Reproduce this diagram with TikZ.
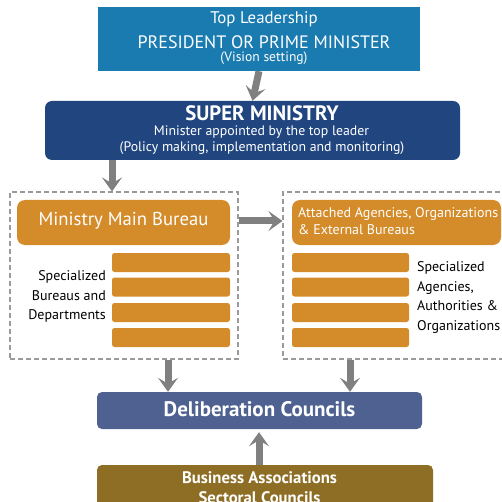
\documentclass[tikz,border=0pt]{standalone}
\usepackage{fontspec}
\setmainfont{PT Sans}
\usetikzlibrary{arrows.meta}
\definecolor{topblue}{HTML}{1A7BB0}
\definecolor{navy}{HTML}{21467F}
\definecolor{orng}{HTML}{D48B2A}
\definecolor{delib}{HTML}{4E6191}
\definecolor{bizbrown}{HTML}{8E6E24}
\definecolor{arrgray}{HTML}{808080}
\definecolor{dashgray}{HTML}{9A9A9A}
\tikzset{
  orangebox/.style={fill=orng, draw=none, rounded corners=5pt, inner sep=0pt},
  barbox/.style={fill=orng, draw=none, rounded corners=2.5pt, inner sep=0pt, minimum height=19pt},
  dashbox/.style={draw=dashgray, line width=1.1pt, dash pattern=on 5pt off 3pt},
  garrow/.style={draw=arrgray, line width=7pt, -{Stealth[length=14pt,width=20pt,inset=6pt]}},
  wtext/.style={text=white, inner sep=0pt, align=center},
  btext/.style={text=black, inner sep=0pt},
}
\begin{document}
\begin{tikzpicture}[x=1pt,y=-1pt]
\useasboundingbox (0,0) rectangle (502,502);
\clip (0,0) rectangle (502,502);
% top box
\node[fill=topblue, inner sep=0pt, minimum width=322pt, minimum height=64pt] (top) at (259,39) {};
\node[wtext, font=\fontsize{16.8}{18}\selectfont] (toplead) at (264,19) {Top Leadership};
\node[wtext, font=\fontsize{18}{20}\selectfont] (pres) at (264,42) {PRESIDENT OR PRIME MINISTER};
\node[wtext, font=\fontsize{13.6}{15}\selectfont] (vision) at (264,58.5) {(Vision setting)};
% super ministry
\node[fill=navy, inner sep=0pt, rounded corners=7pt, minimum width=415pt, minimum height=59pt] (super) at (252.5,130.5) {};
\node[wtext, font=\fontsize{20.8}{22}\selectfont\bfseries] (supert) at (262,113) {SUPER MINISTRY};
\node[wtext, font=\fontsize{13.8}{15}\selectfont] (supera) at (261.5,132) {Minister appointed by the top leader};
\node[wtext, font=\fontsize{13.8}{15}\selectfont] (superb) at (262,148) {(Policy making, implementation and monitoring)};
% left dashed group
\node[dashbox, inner sep=0pt, minimum width=228pt, minimum height=167pt] (leftgrp) at (124,275.5) {};
\node[orangebox, rounded corners=8pt, minimum width=213pt, minimum height=45pt] (mainb) at (123.5,222.5) {};
\node[wtext, font=\fontsize{18.7}{20}\selectfont] (mainbt) at (123.5,220.5) {Ministry Main Bureau};
\node[barbox, minimum width=118pt] (lb1) at (171,262.5) {};
\node[barbox, minimum width=118pt] (lb2) at (171,287) {};
\node[barbox, minimum width=118pt] (lb3) at (171,312.5) {};
\node[barbox, minimum width=118pt] (lb4) at (171,337.5) {};
\node[btext, align=right, anchor=east, font=\fontsize{14}{19.5}\selectfont] (leftlbl) at (106,296.5) {Specialized\\Bureaus and\\Departments};
% right dashed group (extends past right edge)
\node[dashbox, inner sep=0pt, minimum width=237pt, minimum height=167pt] (rightgrp) at (401.5,275.5) {};
\node[orangebox, rounded corners=8pt, minimum width=209pt, minimum height=45pt] (attach) at (396.5,222.5) {};
\node[wtext, align=left, anchor=west, font=\fontsize{14}{17}\selectfont] (attacht) at (298,221.5) {Attached Agencies, Organizations\\\& External Bureaus};
\node[barbox, minimum width=117pt] (rb1) at (350.5,262.5) {};
\node[barbox, minimum width=117pt] (rb2) at (350.5,287) {};
\node[barbox, minimum width=117pt] (rb3) at (350.5,312.5) {};
\node[barbox, minimum width=117pt] (rb4) at (350.5,337.5) {};
\node[btext, align=left, anchor=west, font=\fontsize{14}{19.5}\selectfont] (rightlbl) at (417,297.5) {Specialized\\Agencies,\\Authorities \&\\Organizations};
% deliberation
\node[fill=delib, inner sep=0pt, rounded corners=5pt, minimum width=325pt, minimum height=37pt] (delib) at (259.5,410.5) {};
\node[wtext, font=\fontsize{21}{22}\selectfont\bfseries] (delibt) at (259.5,409) {Deliberation Councils};
% business
\node[fill=bizbrown, inner sep=0pt, rounded corners=5pt, minimum width=336pt, minimum height=70pt] (biz) at (265,500) {};
\node[wtext, font=\fontsize{16.7}{19.5}\selectfont\bfseries] (bizt) at (259.5,487.5) {Business Associations\\Sectoral Councils};
% connectors
\draw[garrow] (top.south) -- (super.north);
\draw[garrow] (super.south -| 112,0) -- (leftgrp.north -| 112,0);
\draw[garrow] (leftgrp.east |- 0,221) -- (rightgrp.west |- 0,221);
\draw[garrow] (leftgrp.south -| 168,0) -- (delib.north -| 168,0);
\draw[garrow] (rightgrp.south -| 350,0) -- (delib.north -| 350,0);
\draw[garrow] (biz.north -| 259,0) -- ([yshift=-3pt]delib.south -| 259,0);
\end{tikzpicture}
\end{document}
